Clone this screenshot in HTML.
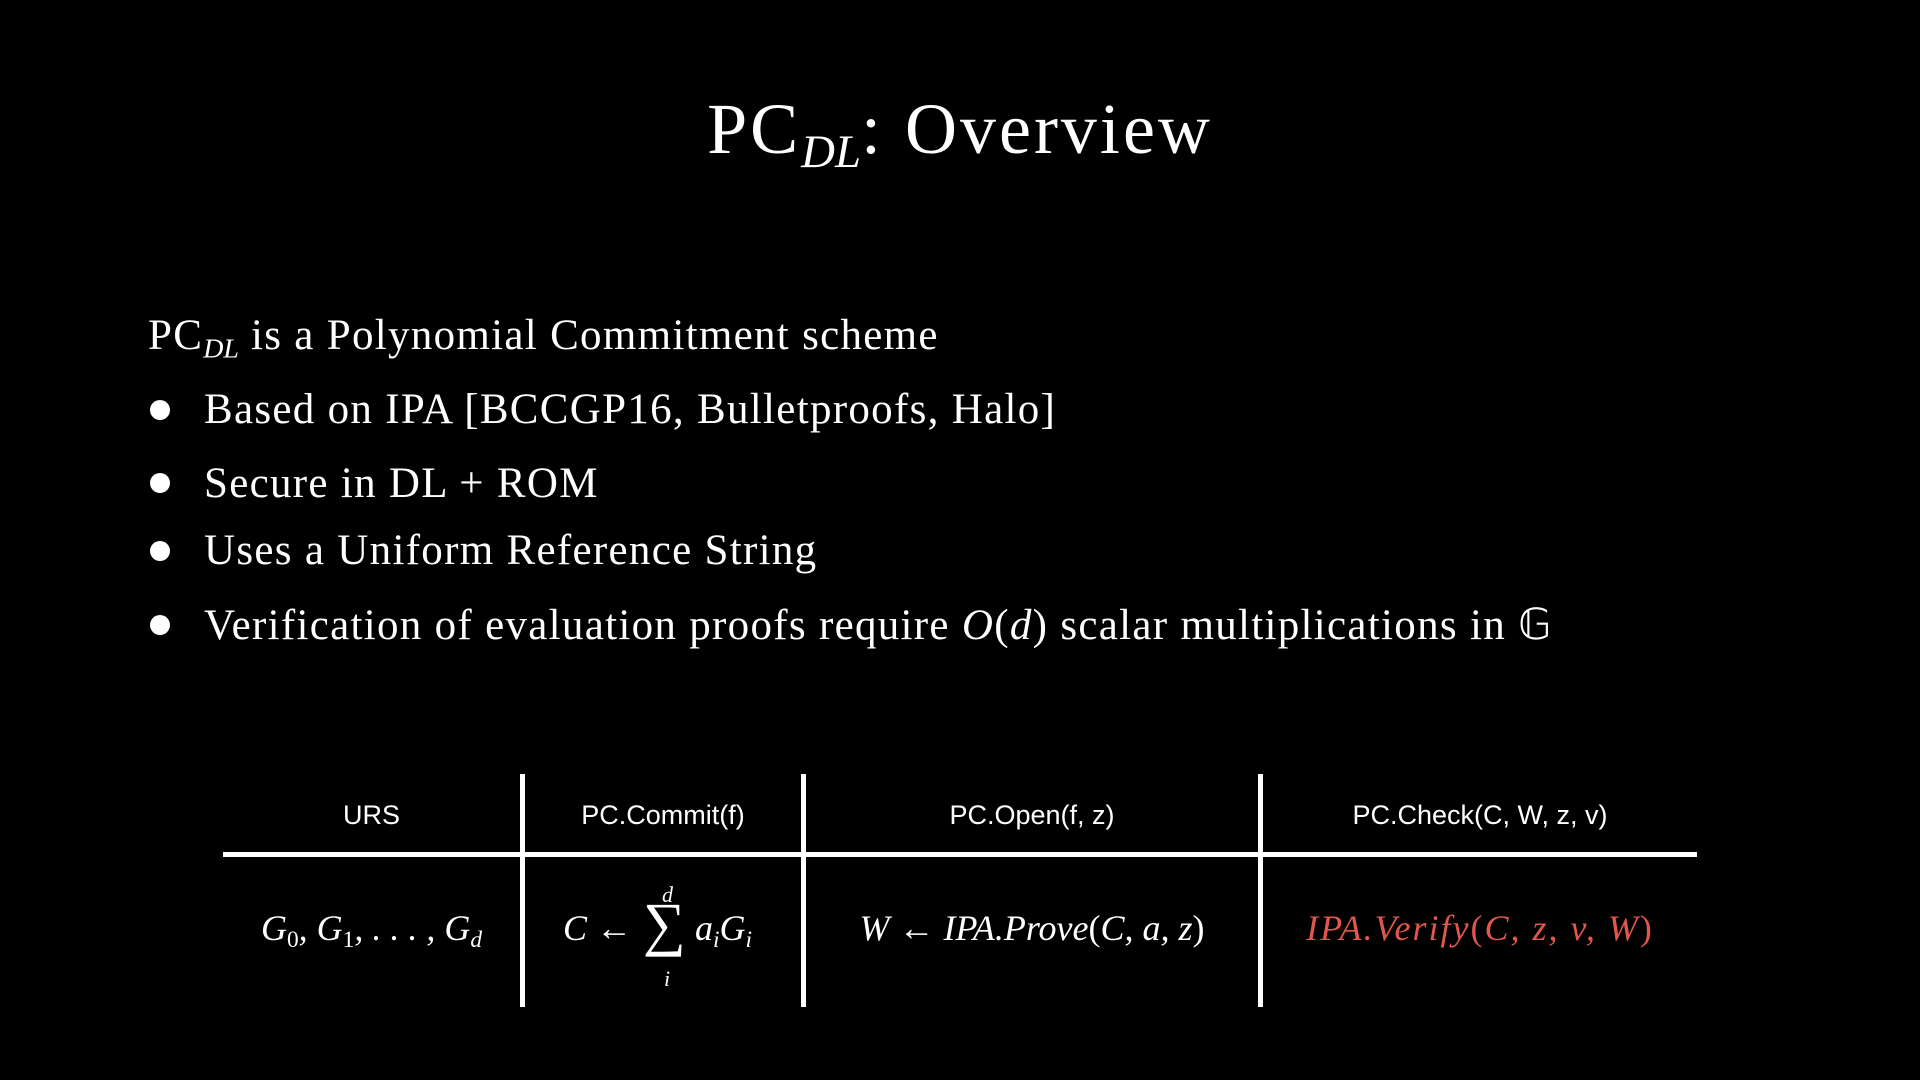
<!DOCTYPE html>
<html><head><meta charset="utf-8"><style>
html,body{margin:0;padding:0;background:#000;}
body{width:1920px;height:1080px;position:relative;overflow:hidden;color:#fff;font-family:"Liberation Serif",serif;}
.a{position:absolute;white-space:nowrap;}
.t{font-size:72px;left:0;width:1920px;text-align:center;top:88px;letter-spacing:3px;}
.b{font-size:43px;letter-spacing:1.3px;}
.dot{position:absolute;width:20px;height:20px;border-radius:50%;background:#fff;}
.h{font-family:"Liberation Sans",sans-serif;font-size:27px;text-align:center;top:800px;}
.m{font-size:36px;font-style:italic;text-align:center;top:907px;}
.ln{position:absolute;background:#fff;}
sub{font-size:65%;font-style:italic;vertical-align:-0.3em;letter-spacing:0;}
.up{font-style:normal;}
</style></head><body>
<div class="a t">PC<sub>DL</sub>: Overview</div>
<div class="a b" style="left:148px;top:311px;">PC<sub>DL</sub> is a Polynomial Commitment scheme</div>
<div class="dot" style="left:150px;top:400px;"></div>
<div class="a b" style="left:204px;top:385px;">Based on IPA [BCCGP16, Bulletproofs, Halo]</div>
<div class="dot" style="left:150px;top:473px;"></div>
<div class="a b" style="left:204px;top:459px;">Secure in DL + ROM</div>
<div class="dot" style="left:150px;top:541px;"></div>
<div class="a b" style="left:204px;top:526px;">Uses a Uniform Reference String</div>
<div class="dot" style="left:150px;top:615px;"></div>
<div class="a b" style="left:204px;top:600px;">Verification of evaluation proofs require <i>O</i>(<i>d</i>) scalar multiplications in 𝔾</div>

<div class="ln" style="left:223px;top:852px;width:1474px;height:5px;"></div>
<div class="ln" style="left:520px;top:774px;width:5px;height:233px;"></div>
<div class="ln" style="left:801px;top:774px;width:5px;height:233px;"></div>
<div class="ln" style="left:1258px;top:774px;width:5px;height:233px;"></div>

<div class="a h" style="left:223px;width:297px;">URS</div>
<div class="a h" style="left:525px;width:276px;">PC.Commit(f)</div>
<div class="a h" style="left:806px;width:452px;">PC.Open(f, z)</div>
<div class="a h" style="left:1263px;width:434px;">PC.Check(C, W, z, v)</div>

<div class="a m" style="left:223px;width:297px;">G<sub class="up">0</sub>, G<sub class="up">1</sub>, . . . , G<sub>d</sub></div>
<div class="a m" style="left:525px;width:276px;top:882px;height:110px;">
<span style="position:absolute;left:38px;top:25px;">C <span class="up">←</span></span>
<span style="position:absolute;left:137px;top:0px;font-size:22px;">d</span>
<span style="position:absolute;left:118px;top:8px;font-size:60px;font-style:normal;">∑</span>
<span style="position:absolute;left:139px;top:84px;font-size:22px;">i</span>
<span style="position:absolute;left:170px;top:25px;">a<sub>i</sub>G<sub>i</sub></span>
</div>
<div class="a m" style="left:806px;width:452px;">W <span class="up">←</span> IPA.Prove<span class="up">(</span>C, a, z<span class="up">)</span></div>
<div class="a m" style="left:1263px;width:434px;color:#e0574c;letter-spacing:2px;">IPA.Verify<span class="up">(</span>C, z, v, W<span class="up">)</span></div>
</body></html>
